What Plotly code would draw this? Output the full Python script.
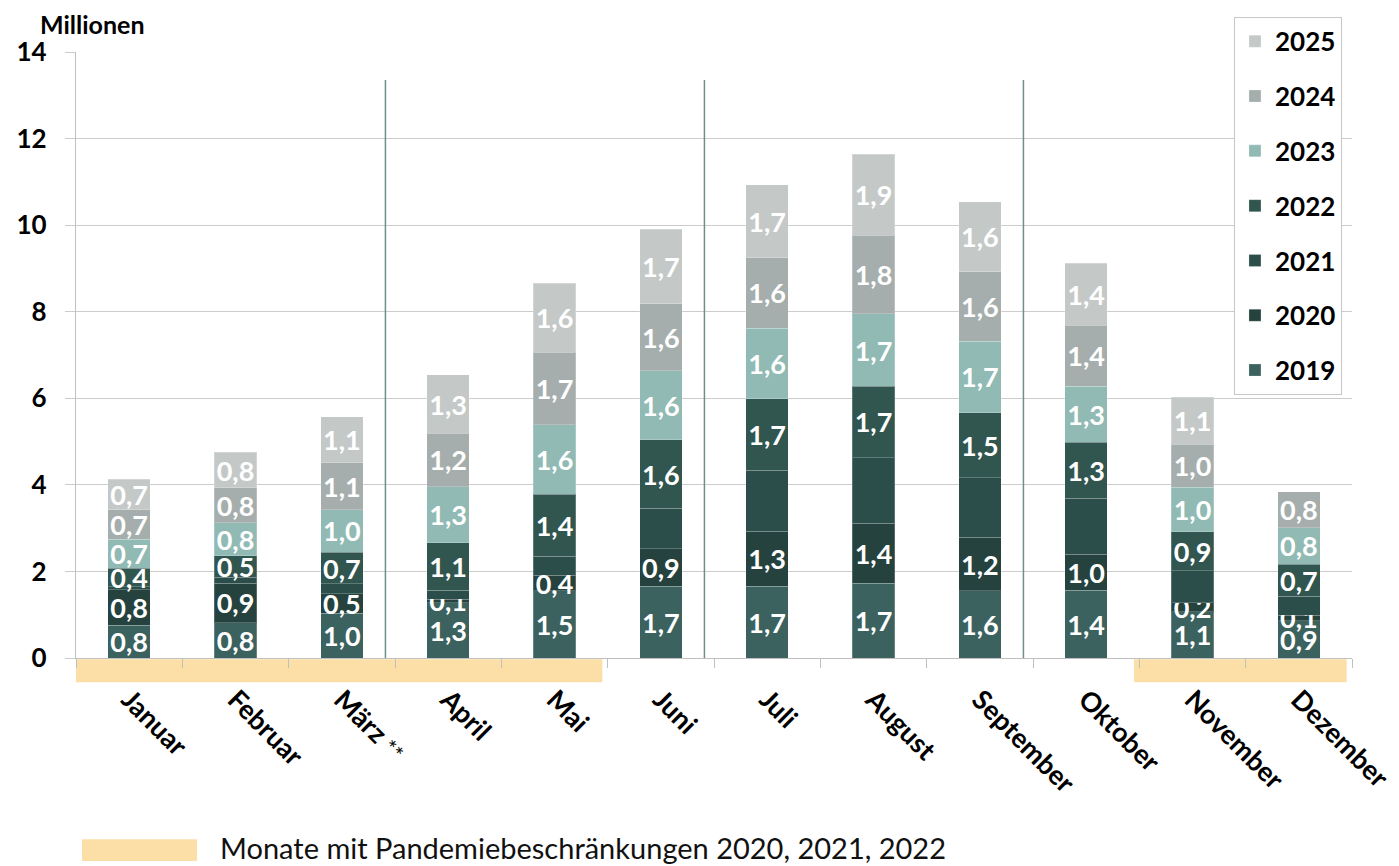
import plotly.graph_objects as go

months = ["Januar", "Februar", "März", "April", "Mai", "Juni", "Juli",
          "August", "September", "Oktober", "November", "Dezember"]
month_ticktext = ["Januar", "Februar", "März <span style='font-weight:normal;font-size:22px'>**</span>",
                  "April", "Mai", "Juni", "Juli", "August", "September",
                  "Oktober", "November", "Dezember"]

years = ["2019", "2020", "2021", "2022", "2023", "2024", "2025"]

v2019 = [0.76, 0.82, 1.03, 1.28, 1.55, 1.66, 1.66, 1.73, 1.55, 1.57, 1.07, 0.86]
v2020 = [0.82, 0.91, 0.46, 0.08, 0.36, 0.86, 1.27, 1.38, 1.24, 0.83, 0.21, 0.13]
v2021 = [0.07, 0.13, 0.22, 0.21, 0.44, 0.94, 1.41, 1.52, 1.38, 1.29, 0.74, 0.44]
v2022 = [0.42, 0.50, 0.73, 1.09, 1.43, 1.58, 1.65, 1.65, 1.50, 1.29, 0.90, 0.74]
v2023 = [0.67, 0.77, 0.99, 1.30, 1.61, 1.60, 1.63, 1.67, 1.65, 1.30, 1.02, 0.84]
v2024 = [0.68, 0.80, 1.08, 1.23, 1.67, 1.54, 1.63, 1.82, 1.60, 1.41, 1.00, 0.83]
v2025 = [0.71, 0.82, 1.06, 1.35, 1.60, 1.73, 1.68, 1.87, 1.62, 1.43, 1.08, None]

l2019 = ["0,8", "0,8", "1,0", "1,3", "1,5", "1,7", "1,7", "1,7", "1,6", "1,4", "1,1", "0,9"]
l2020 = ["0,8", "0,9", "0,5", "0,1", "0,4", "0,9", "1,3", "1,4", "1,2", "1,0", "0,2", "0,1"]
l2021 = [""] * 12
l2022 = ["0,4", "0,5", "0,7", "1,1", "1,4", "1,6", "1,7", "1,7", "1,5", "1,3", "0,9", "0,7"]
l2023 = ["0,7", "0,8", "1,0", "1,3", "1,6", "1,6", "1,6", "1,7", "1,7", "1,3", "1,0", "0,8"]
l2024 = ["0,7", "0,8", "1,1", "1,2", "1,7", "1,6", "1,6", "1,8", "1,6", "1,4", "1,0", "0,8"]
l2025 = ["0,7", "0,8", "1,1", "1,3", "1,6", "1,7", "1,7", "1,9", "1,6", "1,4", "1,1", ""]

values = [v2019, v2020, v2021, v2022, v2023, v2024, v2025]
labels = [l2019, l2020, l2021, l2022, l2023, l2024, l2025]
colors = ["#3b625e", "#25423e", "#2c4e4a", "#31554f", "#90bab3", "#a5aeac", "#c4c9c8"]

pandemic_months = ["Januar", "Februar", "März", "April", "Mai", "November", "Dezember"]
quarter_ends = ["März", "Juni", "September"]

y_ticks = [0, 2, 4, 6, 8, 10, 12, 14]

FONT = "Lato"

fig = go.Figure()
for rank, (yr, vals, labs, col) in enumerate(zip(years, values, labels, colors)):
    fig.add_trace(go.Bar(
        x=months, y=vals, name=yr, text=labs, legendgroup=yr,
        legendrank=1000 - rank,
        marker=dict(color=col, line=dict(color="rgba(255,255,255,0.22)", width=1)),
        textposition="inside", insidetextanchor="middle", textangle=0,
        textfont=dict(family=FONT, size=27, color="white", weight="bold"),
        hoverinfo="skip",
    ))

shapes = []
# pandemic bands below the x axis (contiguous runs)
idx = [months.index(m) for m in pandemic_months]
runs = []
for i in sorted(idx):
    if runs and i == runs[-1][1] + 1:
        runs[-1][1] = i
    else:
        runs.append([i, i])
for a, b in runs:
    shapes.append(dict(type="rect", xref="x", yref="paper", x0=a - 0.55, x1=b + 0.45,
                       y0=-0.040, y1=-0.002, fillcolor="#fcdfa6", line=dict(width=0),
                       layer="below"))
# quarter separators
for m in quarter_ends:
    k = months.index(m)
    shapes.append(dict(type="line", xref="x", yref="paper", x0=k + 0.41, x1=k + 0.41,
                       y0=0, y1=0.954, line=dict(color="#6e8f8b", width=1.5)))
# bottom legend swatch
shapes.append(dict(type="rect", xref="paper", yref="paper", x0=0.0047, x1=0.0948,
                   y0=-0.335, y1=-0.299, fillcolor="#fcdfa6", line=dict(width=0)))

fig.update_layout(
    width=1399, height=866,
    margin=dict(l=68, r=55, t=44, b=216, autoexpand=False),
    paper_bgcolor="white", plot_bgcolor="white",
    barmode="stack", bargap=0.6,
    font=dict(family=FONT, color="black"),
    uniformtext=dict(minsize=27, mode="show"),
    shapes=shapes,
    showlegend=True,
    legend=dict(
        x=0.9075, y=1.058, xanchor="left", yanchor="top",
        traceorder="grouped", tracegroupgap=18,
        bgcolor="white", bordercolor="#c8c8c8", borderwidth=1,
        font=dict(family=FONT, size=26, color="black", weight="bold"),
        itemclick=False,
    ),
    xaxis=dict(
        type="category", categoryorder="array", categoryarray=months,
        tickmode="array", tickvals=months, ticktext=month_ticktext,
        tickangle=45, tickson="boundaries", ticks="outside", ticklen=9,
        tickcolor="#bfbfbf", tickwidth=1.3,
        showline=True, linecolor="#bfbfbf", linewidth=1.3,
        ticklabelstandoff=14,
        tickfont=dict(family=FONT, size=27, color="black", weight="bold"),
        showgrid=False, range=[-0.5, 11.5],
    ),
    yaxis=dict(
        range=[0, 14], tickvals=y_ticks, ticktext=[str(t) for t in y_ticks],
        showgrid=True, gridcolor="#cccccc", gridwidth=1.3,
        ticks="outside", ticklen=10, tickcolor="#cccccc", tickwidth=1.3,
        showline=True, linecolor="#bfbfbf", linewidth=1.3,
        ticklabelstandoff=13,
        tickfont=dict(family=FONT, size=26, color="black", weight="bold"),
        zeroline=False,
    ),
    annotations=[
        dict(text="Millionen", xref="paper", yref="paper", x=-0.0298, y=1.047,
             xanchor="left", yanchor="middle", showarrow=False,
             font=dict(family=FONT, size=25, color="black", weight="bold")),
        dict(text="Monate mit Pandemiebeschränkungen 2020, 2021, 2022",
             xref="paper", yref="paper", x=0.1113, y=-0.312,
             xanchor="left", yanchor="middle", showarrow=False,
             font=dict(family=FONT, size=29, color="#111111")),
    ],
)

fig.write_html("out.html")
